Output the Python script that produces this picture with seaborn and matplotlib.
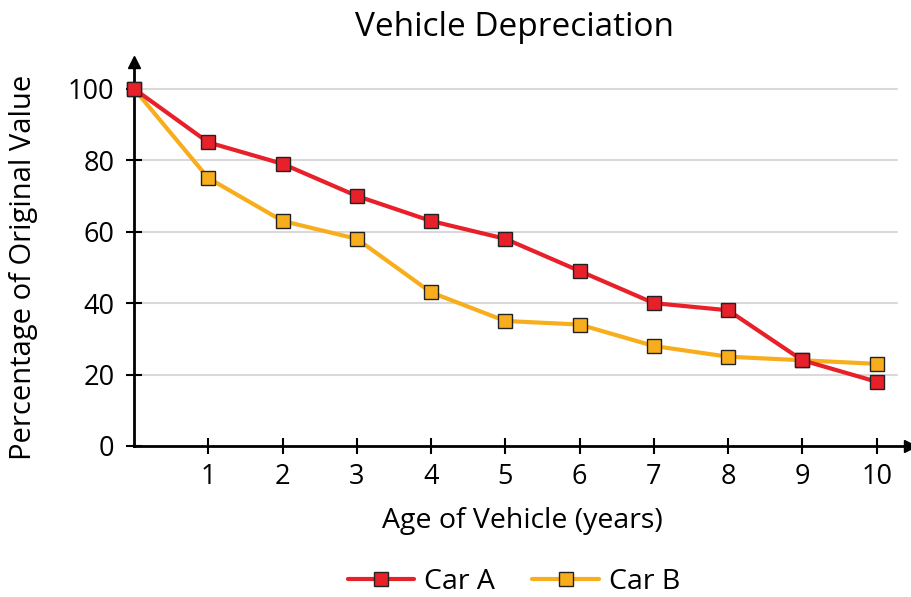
import matplotlib
matplotlib.use("Agg")
import matplotlib.pyplot as plt
import seaborn as sns
import pandas as pd

# Depreciation data: percentage of original value by age
years = [0, 1, 2, 3, 4, 5, 6, 7, 8, 9, 10]
car_a = [100, 85, 79, 70, 63, 58, 49, 40, 38, 24, 18]
car_b = [100, 75, 63, 58, 43, 35, 34, 28, 25, 24, 23]
series_names = ["Car A", "Car B"]
x_ticks = [1, 2, 3, 4, 5, 6, 7, 8, 9, 10]
y_ticks = [0, 20, 40, 60, 80, 100]

sns.set_theme(style="white")
plt.rcParams["font.family"] = ["Open Sans", "DejaVu Sans"]
plt.rcParams["text.color"] = "black"
plt.rcParams["axes.labelcolor"] = "black"

df = pd.DataFrame({
    "Age": years * 2,
    "Value": car_a + car_b,
    "Car": [series_names[0]] * len(years) + [series_names[1]] * len(years),
})

colors = {"Car A": "#E8202A", "Car B": "#F8AE1C"}

fig = plt.figure(figsize=(9.12, 5.97), dpi=100)
ax = fig.add_axes([134 / 912, 1 - 446 / 597, 776 / 912, 384 / 597])

# horizontal grid lines
for yv in y_ticks[1:]:
    ax.plot([0, 10.27], [yv, yv], color="#d9d9d9", lw=1.5, zorder=0)

# Car B drawn first so Car A sits on top where they overlap
sns.lineplot(data=df, x="Age", y="Value", hue="Car", palette=colors,
             hue_order=["Car B", "Car A"],
             marker="s", markersize=10.5, markeredgecolor="#222222",
             markeredgewidth=1.0, linewidth=3, dashes=False, ax=ax,
             zorder=5, clip_on=False)

ax.set_xlim(0, 10.45)
ax.set_ylim(0, 107.5)
ax.set_xticks(x_ticks)
ax.set_yticks(y_ticks)
ax.tick_params(axis="both", direction="inout", length=12, width=1.5,
               labelsize=19.5, colors="black", pad=6, left=True, bottom=True)
ax.tick_params(axis="y", pad=8)

for side in ["top", "right"]:
    ax.spines[side].set_visible(False)
for side in ["left", "bottom"]:
    ax.spines[side].set_linewidth(2)
    ax.spines[side].set_color("black")

# arrow heads on the axes
ax.plot(1, 0, marker=">", color="black", markersize=9,
        transform=ax.transAxes, clip_on=False)
ax.plot(0, 1, marker="^", color="black", markersize=9,
        transform=ax.transAxes, clip_on=False)

ax.set_xlabel("Age of Vehicle (years)", fontsize=20.5, labelpad=12)
ax.set_ylabel("Percentage of Original Value", fontsize=21)
ax.yaxis.set_label_coords(-0.124, 0.466)
fig.text(515 / 912, 1 - 27 / 597, "Vehicle Depreciation", fontsize=24,
         ha="center", va="center")

handles, labels = ax.get_legend_handles_labels()
order = [labels.index(n) for n in series_names]
ax.legend([handles[i] for i in order], [labels[i] for i in order],
          loc="center", bbox_to_anchor=(514 / 912, 1 - 582 / 597),
          bbox_transform=fig.transFigure, ncol=2, frameon=False, fontsize=20.5,
          handlelength=2.35, columnspacing=1.3, handletextpad=0.35)

fig.savefig("out.png", dpi=100)
